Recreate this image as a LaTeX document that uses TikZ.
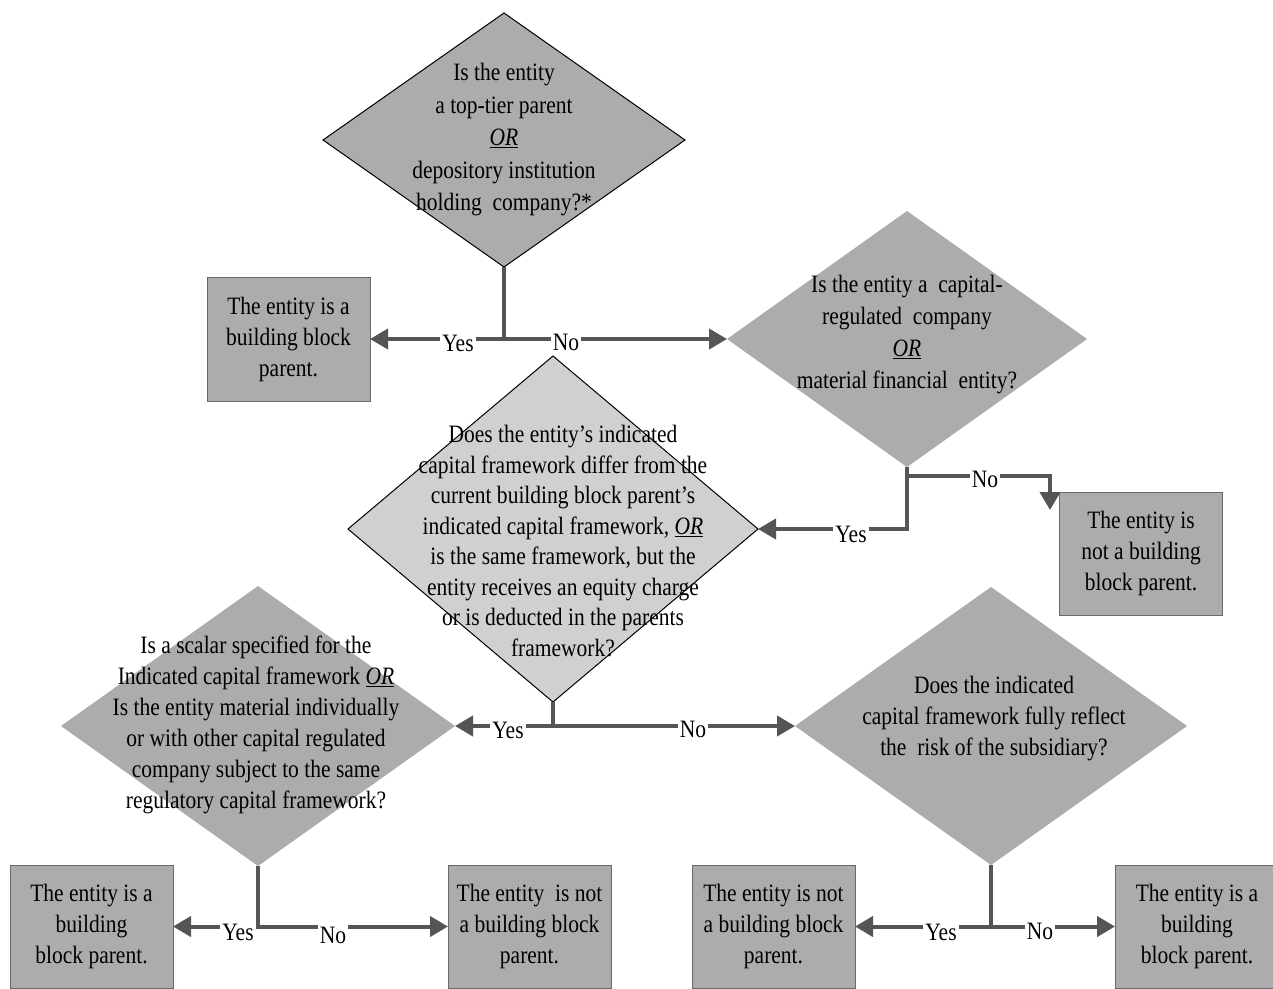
\documentclass[tikz,border=0pt]{standalone}
\usepackage{fontspec}
\setmainfont{Liberation Serif}[FakeStretch=0.86]
\usetikzlibrary{shapes.geometric,arrows.meta}
\definecolor{dgray}{RGB}{172,172,172}
\definecolor{lgray}{RGB}{208,208,208}
\definecolor{lnc}{RGB}{85,85,85}
\definecolor{boxedge}{RGB}{105,105,105}
\begin{document}
\begin{tikzpicture}[x=1pt,y=-1pt,
  dia/.style={diamond, fill=dgray, inner sep=0pt, outer sep=0pt},
  boxn/.style={rectangle, fill=dgray, draw=boxedge, line width=0.8pt, inner sep=0pt, outer sep=0pt,
    align=center, minimum width=163pt, minimum height=123pt, font=\fontsize{25}{31}\selectfont},
  qtext/.style={align=center, inner sep=0pt},
  lbl/.style={fill=white, inner sep=2pt, anchor=base, font=\fontsize{25}{30}\selectfont},
  conn/.style={draw=lnc, line width=4pt},
  arr/.style={conn, -{Triangle[length=18pt,width=20pt]}},
]
\useasboundingbox (0,0) rectangle (1273,988);
\fill[white] (0,0) rectangle (1273,988);
\clip (0,0) rectangle (1273,988);

% diamonds
\node[dia, draw=black, line width=1pt, minimum width=362pt, minimum height=254pt] (d1) at (504,140) {};
\node[dia, minimum width=360pt, minimum height=256pt] (d2) at (907,339) {};
\node[dia, fill=lgray, draw=black, line width=1pt, minimum width=410pt, minimum height=346pt] (d3) at (553,529) {};
\node[dia, minimum width=394pt, minimum height=280pt] (d4) at (258,726) {};
\node[dia, minimum width=392pt, minimum height=278pt] (d5) at (991,726) {};

% diamond texts
\node[qtext, font=\fontsize{25}{32.5}\selectfont] (t1) at (504,140)
  {Is the entity\\ a top-tier parent\\ \underline{\textit{OR}}\\ depository institution\\ holding~ company?*};
\node[qtext, font=\fontsize{25}{32}\selectfont] (t2) at (907,335)
  {Is the entity a~ capital-\\ regulated~ company\\ \underline{\textit{OR}}\\ material financial~ entity?};
\node[qtext, font=\fontsize{25}{30.5}\selectfont] (t3) at (563,541)
  {Does the entity’s indicated\\ capital framework differ from the\\ current building block parent’s\\ indicated capital framework, \underline{\textit{OR}}\\ is the same framework, but the\\ entity receives an equity charge\\ or is deducted in the parents\\ framework?};
\node[qtext, font=\fontsize{25}{31}\selectfont] (t4) at (256,725)
  {Is a scalar specified for the\\ Indicated capital framework \underline{\textit{OR}}\\ Is the entity material individually\\ or with other capital regulated\\ company subject to the same\\ regulatory capital framework?};
\node[qtext, font=\fontsize{25}{31}\selectfont] (t5) at (994,719)
  {Does the indicated\\ capital framework fully reflect\\ the~ risk of the subsidiary?};

% boxes
\node[boxn, minimum height=124pt] (b1) at (288.5,339) {The entity is a\\ building block\\ parent.};
\node[boxn] (b2) at (1141,553.5) {The entity is\\ not a building\\ block parent.};
\node[boxn] (b4) at (91.5,926.5) {The entity is a\\ building\\ block parent.};
\node[boxn] (b5) at (529.5,926.5) {The entity~ is not\\ a building block\\ parent.};
\node[boxn] (b6) at (773.5,926.5) {The entity is not\\ a building block\\ parent.};
\node[boxn, minimum width=164pt] (b7) at (1197,926.5) {The entity is a\\ building\\ block parent.};

% connectors
\draw[arr] (d1.south) |- (b1.east);
\draw[arr] (d1.south) |- (d2.west);

\coordinate (j2) at (907,476);
\coordinate (n2tip) at (1050,510);
\draw[arr] (d2.south) |- (d3.east);
\draw[arr] (d2.south) -- (j2) -| (n2tip);

\draw[arr] (d3.south) |- (d4.east);
\draw[arr] (d3.south) |- (d5.west);

\draw[arr] (d4.south) |- (b4.east);
\draw[arr] (d4.south) |- (b5.west);

\draw[arr] (d5.south) |- (b6.east);
\draw[arr] (d5.south) |- (b7.west);

% labels
\node[lbl] (y1) at (458,351) {Yes};
\node[lbl] (n1) at (566,350) {No};
\node[lbl] (n2) at (985,487) {No};
\node[lbl] (y2) at (851,542) {Yes};
\node[lbl] (y3) at (508,738) {Yes};
\node[lbl] (n3) at (693,737) {No};
\node[lbl] (y4) at (238,940) {Yes};
\node[lbl] (n4) at (333,943) {No};
\node[lbl] (y5) at (941,940) {Yes};
\node[lbl] (n5) at (1040,939) {No};
\end{tikzpicture}
\end{document}
